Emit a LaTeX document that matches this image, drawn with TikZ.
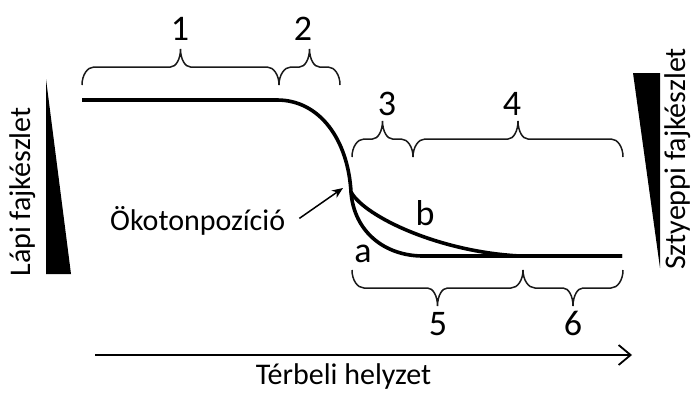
\documentclass[tikz,border=0pt]{standalone}
\usepackage{fontspec}
\setmainfont{Carlito}
\usetikzlibrary{arrows.meta,calc,positioning}

\tikzset{
  curve/.style={line width=3.6pt},
  brace/.style={line width=1.5pt,black!90},
  lbl/.style={font=\fontsize{30}{35}\selectfont,inner sep=0pt},
  num/.style={font=\fontsize{36}{42}\selectfont,inner sep=0pt,anchor=base},
  pointer/.style={line width=1.5pt,-{Stealth[length=11pt,width=9pt]}},
  axis/.style={line width=1.8pt,-{Straight Barb[length=12pt,width=20pt,line width=1.8pt]}}
}
% curly brace over / under two points
\newcommand{\upbrace}[2]{%
  \draw[brace] let \p1=(#1), \p2=(#2), \p3=($(#1)!.5!(#2)$) in
    (\p1) arc[start angle=180,end angle=90,x radius=12pt,y radius=18pt]
    -- (\x3-10pt,\y1+18pt)
    arc[start angle=270,end angle=360,x radius=10pt,y radius=18pt]
    arc[start angle=180,end angle=270,x radius=10pt,y radius=18pt]
    -- (\x2-12pt,\y1+18pt)
    arc[start angle=90,end angle=0,x radius=12pt,y radius=18pt];}
\newcommand{\downbrace}[2]{%
  \draw[brace] let \p1=(#1), \p2=(#2), \p3=($(#1)!.5!(#2)$) in
    (\p1) arc[start angle=180,end angle=270,x radius=12pt,y radius=18pt]
    -- (\x3-10pt,\y1-18pt)
    arc[start angle=90,end angle=0,x radius=10pt,y radius=18pt]
    arc[start angle=180,end angle=90,x radius=10pt,y radius=18pt]
    -- (\x2-12pt,\y1-18pt)
    arc[start angle=270,end angle=360,x radius=12pt,y radius=18pt];}

\begin{document}
\begin{tikzpicture}[x=1pt,y=1pt]
\useasboundingbox (0,0) rectangle (692,392);

% species pools
\fill (46,313) -- (46,118) -- (71,118) -- cycle;
\fill (633,319) -- (660,319) -- (660,124) -- cycle;
\node[lbl,rotate=90] (lapi) at (23,200) {Lápi fajkészlet};
\node[lbl,rotate=90] (sztyep) at (678,233) {Sztyeppi fajkészlet};

% curves
\coordinate (start) at (82,292);
\coordinate (bend) at (277,292);
\coordinate (fork) at (351,200);
\coordinate (flat) at (423,136);
\coordinate (meet) at (520,136);
\coordinate (end) at (622,136);
\draw[curve] (start) -- (bend) .. controls (320,292) and (348,252) .. (fork);
\draw[curve] (fork) .. controls (354,160) and (385,136) .. (flat) -- (end);
\draw[curve] (fork) .. controls (365,175) and (440,140) .. (meet) -- (end);
\node[num] (a) at (363,130) {a};
\node[num] (b) at (425,167) {b};

% braces
\coordinate (u1) at (82,307);
\coordinate (u2) at (279,307);
\coordinate (u3) at (340,307);
\coordinate (m1) at (352,235);
\coordinate (m2) at (413,235);
\coordinate (m3) at (623,235);
\coordinate (d1) at (352,122);
\coordinate (d2) at (523,122);
\coordinate (d3) at (623,122);
\upbrace{u1}{u2}
\upbrace{u2}{u3}
\upbrace{m1}{m2}
\upbrace{m2}{m3}
\downbrace{d1}{d2}
\downbrace{d2}{d3}
\node[num] (n1) at (180,352) {1};
\node[num] (n2) at (303,352) {2};
\node[num] (n3) at (387,277) {3};
\node[num] (n4) at (512,277) {4};
\node[num] (n5) at (438,57) {5};
\node[num] (n6) at (573,57) {6};

% ecotone
\node[lbl,anchor=base west] (oko) at (110,162) {Ökotonpozíció};
\coordinate (okohead) at (343,204);
\draw[pointer] ([xshift=14pt,yshift=2pt]oko.east) -- (okohead);

% axis
\coordinate (ax0) at (95,37);
\coordinate (ax1) at (632,37);
\draw[axis] (ax0) -- (ax1);
\node[lbl,anchor=base] (ter) at (343.5,7.5) {Térbeli helyzet};
\end{tikzpicture}
\end{document}
